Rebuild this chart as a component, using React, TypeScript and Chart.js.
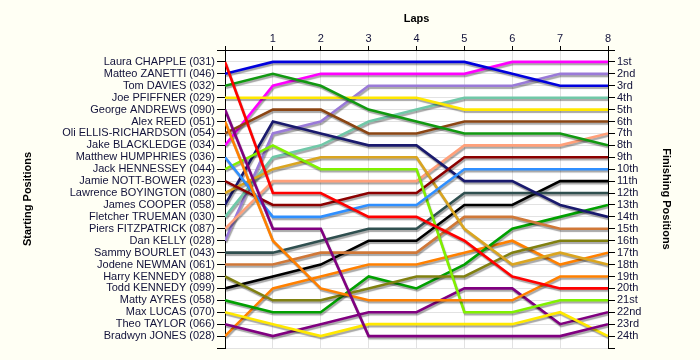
import React, { useEffect, useRef } from 'react';
import { Chart, registerables } from 'chart.js';

Chart.register(...registerables);

// ---- data ----
const laps = [0, 1, 2, 3, 4, 5, 6, 7, 8];

const startingLabels = [
  'Laura CHAPPLE (031)', 'Matteo ZANETTI (046)', 'Tom DAVIES (032)', 'Joe PFIFFNER (029)',
  'George ANDREWS (090)', 'Alex REED (051)', 'Oli ELLIS-RICHARDSON (054)', 'Jake BLACKLEDGE (034)',
  'Matthew HUMPHRIES (036)', 'Jack HENNESSEY (044)', 'Jamie NOTT-BOWER (023)', 'Lawrence BOYINGTON (080)',
  'James COOPER (058)', 'Fletcher TRUEMAN (030)', 'Piers FITZPATRICK (087)', 'Dan KELLY (028)',
  'Sammy BOURLET (043)', 'Jodene NEWMAN (061)', 'Harry KENNEDY (088)', 'Todd KENNEDY (099)',
  'Matty AYRES (058)', 'Max LUCAS (070)', 'Theo TAYLOR (066)', 'Bradwyn JONES (028)',
];

const finishingLabels = [
  '1st', '2nd', '3rd', '4th', '5th', '6th', '7th', '8th', '9th', '10th', '11th', '12th',
  '13th', '14th', '15th', '16th', '17th', '18th', '19th', '20th', '21st', '22nd', '23rd', '24th',
];

const laura = [1, 12, 12, 14, 14, 16, 19, 20, 20];
const matteo = [2, 1, 1, 1, 1, 1, 2, 3, 3];
const tom = [3, 2, 3, 5, 6, 7, 7, 7, 8];
const joe = [4, 4, 4, 4, 4, 5, 5, 5, 5];
const george = [5, 15, 15, 24, 24, 24, 24, 24, 23];
const alex = [6, 16, 20, 21, 21, 21, 21, 19, 19];
const oli = [7, 5, 5, 7, 7, 6, 6, 6, 6];
const jake = [8, 3, 2, 2, 2, 2, 1, 1, 1];
const matthew = [9, 14, 14, 13, 13, 10, 10, 10, 10];
const jack = [10, 8, 10, 10, 10, 22, 22, 21, 21];
const jamie = [11, 13, 13, 12, 12, 9, 9, 9, 9];
const lawrence = [12, 10, 9, 9, 9, 15, 18, 17, 18];
const james = [13, 6, 7, 8, 8, 11, 11, 13, 14];
const fletcher = [14, 9, 8, 6, 5, 4, 4, 4, 4];
const piers = [15, 11, 11, 11, 11, 8, 8, 8, 7];
const dan = [16, 7, 6, 3, 3, 3, 3, 2, 2];
const sammy = [17, 17, 16, 15, 15, 12, 12, 12, 12];
const jodene = [18, 18, 17, 17, 17, 14, 14, 15, 15];
const harry = [19, 21, 21, 20, 19, 19, 17, 16, 16];
const todd = [20, 19, 18, 16, 16, 13, 13, 11, 11];
const matty = [21, 22, 22, 19, 20, 18, 15, 14, 13];
const maxL = [22, 23, 24, 23, 23, 23, 23, 22, 24];
const theo = [23, 24, 23, 22, 22, 20, 20, 23, 22];
const bradwyn = [24, 20, 19, 18, 18, 17, 16, 18, 17];

const driverPositions = [
  laura, matteo, tom, joe, george, alex, oli, jake, matthew, jack, jamie, lawrence,
  james, fletcher, piers, dan, sammy, jodene, harry, todd, matty, maxL, theo, bradwyn,
];

const driverColors = [
  '#ff0000', '#0000dd', '#119911', '#ffe800', '#800080', '#ff8000', '#8b4513', '#ff00ff',
  '#2f8fff', '#80f000', '#8b0000', '#daa520', '#1a1a6e', '#70c8a8', '#ffa07a', '#9a7ad8',
  '#2f4f4f', '#d07838', '#808010', '#000000', '#00a000', '#ffe800', '#800080', '#ff8000',
];

const BG = '#fffff4';
const TICK_COLOR = '#12123a';
const GRID = '#e2e2e2';

const plotBackground = {
  id: 'plotBackground',
  beforeDraw(chart: any) {
    const { ctx, chartArea: a } = chart;
    ctx.save();
    ctx.fillStyle = '#ffffff';
    ctx.fillRect(a.left, a.top, a.right - a.left, a.bottom - a.top);
    ctx.restore();
  },
};

const lineShadow = {
  id: 'lineShadow',
  beforeDatasetsDraw(chart: any) {
    const ctx = chart.ctx;
    ctx.save();
    ctx.shadowColor = 'rgba(0,0,0,0.35)';
    ctx.shadowOffsetX = 1;
    ctx.shadowOffsetY = 2;
    ctx.shadowBlur = 1;
  },
  afterDatasetsDraw(chart: any) {
    chart.ctx.restore();
  },
};

export default function App() {
  const canvasRef = useRef<HTMLCanvasElement>(null);

  useEffect(() => {
    document.body.style.margin = '0';
    document.body.style.background = BG;
    Chart.defaults.font.family = "'Liberation Sans', Arial, sans-serif";

    const datasets = driverPositions.map((pos, i) => ({
      label: startingLabels[i],
      data: laps.map((lap, j) => ({ x: lap, y: pos[j] })),
      borderColor: driverColors[i],
      backgroundColor: driverColors[i],
      borderWidth: 2.6,
      pointRadius: 0,
      tension: 0,
      fill: false,
    }));

    const chart = new Chart(canvasRef.current as HTMLCanvasElement, {
      type: 'line',
      data: { datasets },
      plugins: [plotBackground, lineShadow],
      options: {
        animation: false,
        responsive: true,
        maintainAspectRatio: false,
        layout: { padding: { left: 0, right: 0, top: 0, bottom: 12 } },
        plugins: { legend: { display: false }, tooltip: { enabled: false } },
        scales: {
          x: {
            type: 'linear',
            position: 'top',
            min: 0,
            max: 8,
            afterFit: (s: any) => { s.height = 50; },
            ticks: {
              stepSize: 1,
              autoSkip: false,
              maxRotation: 0,
              padding: 0,
              color: TICK_COLOR,
              font: { size: 11 },
              callback: (v: any) => (v === 0 ? '' : String(v)),
            },
            grid: {
              color: (c: any) => (c.tick && (c.tick.value === 0 || c.tick.value === 8) ? 'rgba(0,0,0,0)' : GRID),
              tickColor: '#000',
              tickLength: 4,
            },
            border: { display: true, color: '#000', width: 1 },
            title: {
              display: true,
              text: 'Laps',
              color: '#000',
              font: { size: 11, weight: 'bold' },
              padding: { top: 12, bottom: 0 },
            },
          },
          y: {
            type: 'linear',
            position: 'left',
            reverse: true,
            min: 0,
            max: 25,
            afterFit: (s: any) => { s.width = 225; },
            ticks: {
              stepSize: 1,
              maxTicksLimit: 30,
              autoSkip: false,
              padding: 2,
              color: TICK_COLOR,
              font: { size: 11 },
              callback: (v: any) => (v >= 1 && v <= 24 ? startingLabels[v - 1] : ''),
            },
            grid: {
              color: (c: any) => (c.tick && c.tick.value === 0 ? 'rgba(0,0,0,0)' : GRID),
              tickColor: '#000',
              tickLength: 8,
            },
            border: { display: true, color: '#000', width: 1 },
            title: {
              display: true,
              text: 'Starting Positions',
              color: '#000',
              font: { size: 11, weight: 'bold' },
              padding: { top: 21, bottom: 0 },
            },
          },
          y2: {
            type: 'linear',
            position: 'right',
            reverse: true,
            min: 0,
            max: 25,
            afterFit: (s: any) => { s.width = 92; },
            ticks: {
              stepSize: 1,
              maxTicksLimit: 30,
              autoSkip: false,
              padding: 2,
              color: TICK_COLOR,
              font: { size: 11 },
              callback: (v: any) => (v >= 1 && v <= 24 ? finishingLabels[v - 1] : ''),
            },
            grid: {
              drawOnChartArea: false,
              tickColor: '#000',
              tickLength: 7,
            },
            border: { display: true, color: '#000', width: 1 },
            title: {
              display: true,
              text: 'Finishing Positions',
              color: '#000',
              font: { size: 11, weight: 'bold' },
              padding: { top: 27, bottom: 0 },
            },
          },
        },
      } as any,
    });

    return () => chart.destroy();
  }, []);

  return (
    <div style={{ position: 'relative', width: 700, height: 360, background: BG }}>
      <canvas ref={canvasRef} />
    </div>
  );
}
